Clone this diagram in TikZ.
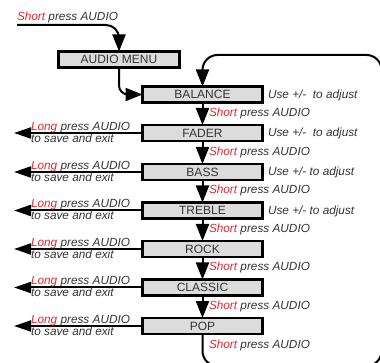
\documentclass[tikz,border=0pt]{standalone}
\usepackage{fontspec}
\setmainfont{Liberation Sans}
\usetikzlibrary{arrows.meta}
\definecolor{txt}{HTML}{333333}
\definecolor{red1}{HTML}{E8262A}
\definecolor{boxfill}{HTML}{DCDCDC}
\begin{document}
\begin{tikzpicture}[x=1pt,y=-1pt,
  every node/.style={inner sep=0pt,outer sep=0pt,font=\fontsize{12}{14}\selectfont,text=txt},
  menubox/.style={draw=black,fill=boxfill,line width=2.5pt,minimum width=120pt,minimum height=16pt},
  lbl/.style={anchor=base west,font=\fontsize{11.8}{14}\selectfont\itshape},
  flow/.style={line width=2pt,draw=black,-{Triangle[length=17pt,width=13pt]}},
  curvy/.style={flow,rounded corners=13pt}]
\useasboundingbox (0,0) rectangle (380,363);
\clip (0,0) rectangle (380,363);
% boxes
\node[menubox,minimum width=121pt] (menu) at (119,59.5) {AUDIO MENU};
\node[menubox] (balance) at (202.5,94.5) {BALANCE};
\node[menubox] (fader) at (202.5,133) {FADER};
\node[menubox] (bass) at (202.5,172) {BASS};
\node[menubox] (treble) at (202.5,210.5) {TREBLE};
\node[menubox] (rock) at (202.5,249) {ROCK};
\node[menubox] (classic) at (202.5,287.5) {CLASSIC};
\node[menubox] (pop) at (202.5,326) {POP};
% top entry
\node[lbl] (t0) at (17,21) {\textcolor{red1}{Short} press AUDIO};
\coordinate (start) at (17,25);
\draw[curvy] (start) -- (119,25) -- (menu.north);
\draw[curvy,rounded corners=9pt] (menu.south) -- (119,94.5) -- (balance.west);
% vertical arrows
\draw[flow] (balance.south) -- (fader.north);
\draw[flow] (fader.south) -- (bass.north);
\draw[flow] (bass.south) -- (treble.north);
\draw[flow] (treble.south) -- (rock.north);
\draw[flow] (rock.south) -- (classic.north);
\draw[flow] (classic.south) -- (pop.north);
% loop back
\coordinate (c1) at (202.5,366);
\coordinate (c2) at (381.5,366);
\coordinate (c3) at (381.5,55);
\coordinate (c4) at (202.5,55);
\draw[curvy,rounded corners=15pt] (pop.south) -- (c1) -- (c2) -- (c3) -- (c4) -- (balance.north);
% short press labels
\node[lbl] (s1) at (209,116.5) {\textcolor{red1}{Short} press AUDIO};
\node[lbl] (s2) at (209,155.5) {\textcolor{red1}{Short} press AUDIO};
\node[lbl] (s3) at (209,194) {\textcolor{red1}{Short} press AUDIO};
\node[lbl] (s4) at (209,232.5) {\textcolor{red1}{Short} press AUDIO};
\node[lbl] (s5) at (209,271) {\textcolor{red1}{Short} press AUDIO};
\node[lbl] (s6) at (209,309.5) {\textcolor{red1}{Short} press AUDIO};
\node[lbl] (s7) at (209,348.5) {\textcolor{red1}{Short} press AUDIO};
% adjust labels
\node[lbl] (a1) at (268,98.5) {Use +/-\ \ to adjust};
\node[lbl] (a2) at (268,137) {Use +/-\ \ to adjust};
\node[lbl] (a3) at (268,176) {Use +/- to adjust};
\node[lbl] (a4) at (268,214.5) {Use +/- to adjust};
% exit arrows
\foreach \b/\y in {fader/133,bass/172,treble/210.5,rock/249,classic/287.5,pop/326}{
  \coordinate (e-\b) at (14,\y);
  \draw[flow,-{Triangle[length=17pt,width=11pt]}] (\b.west) -- (e-\b);
  \node[lbl] (l1-\b) at (31,\y-2.5) {\textcolor{red1}{Long} press AUDIO};
  \node[lbl] (l2-\b) at (31,\y+9.5) {to save and exit};
}
\end{tikzpicture}
\end{document}
